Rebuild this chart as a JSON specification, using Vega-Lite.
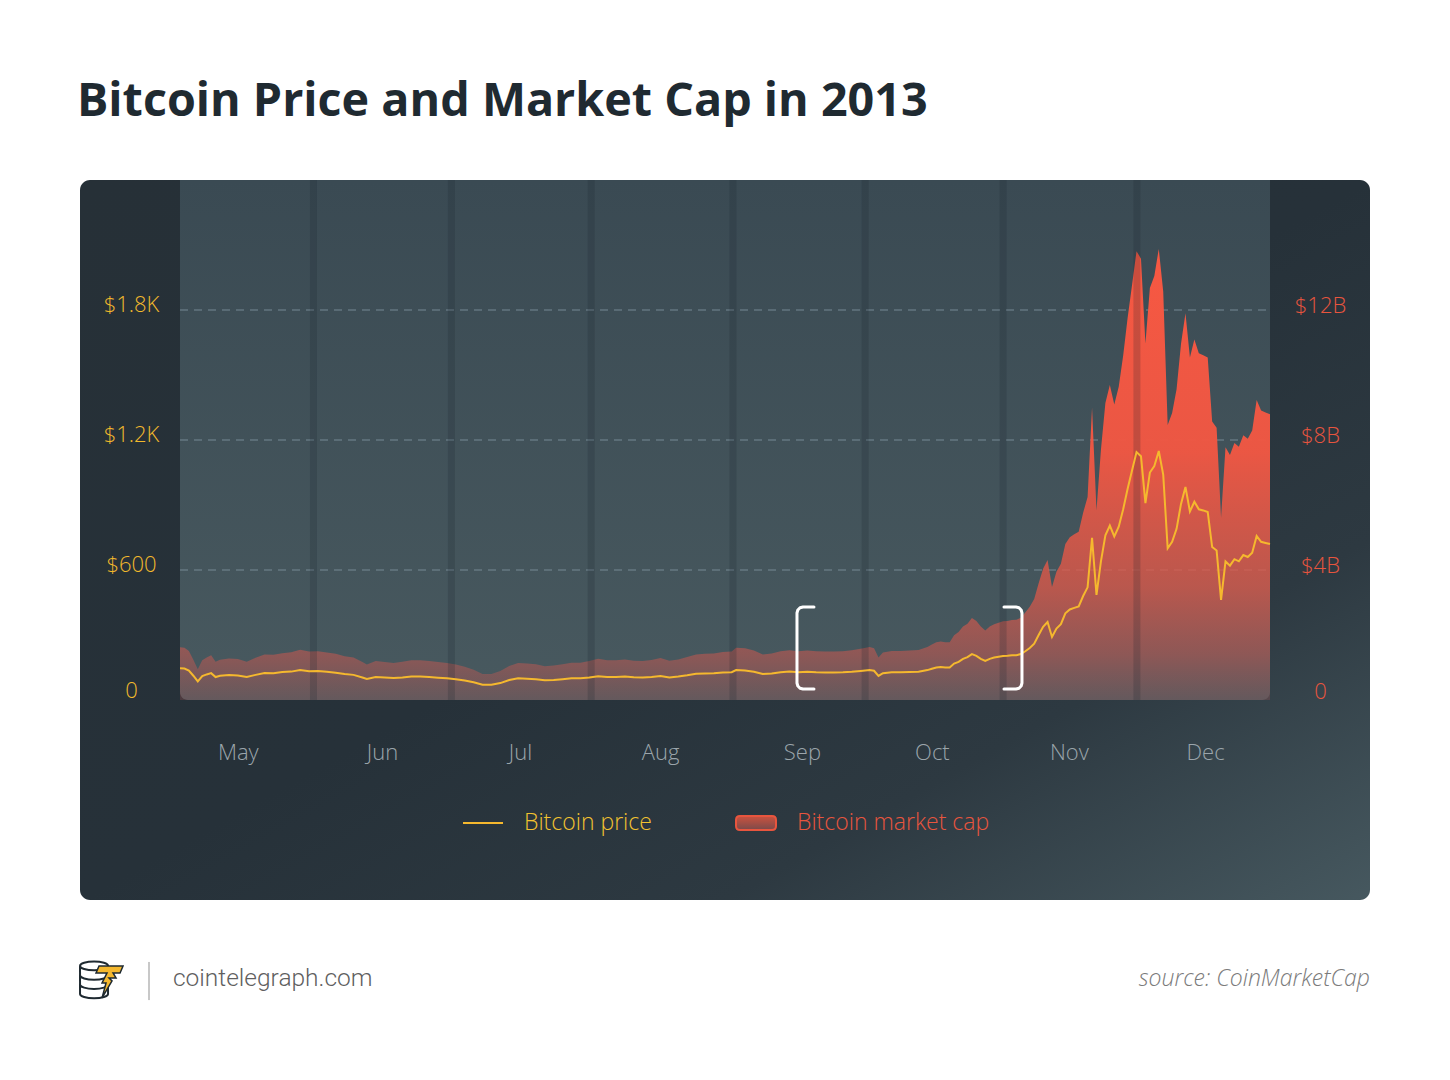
{
  "$schema": "https://vega.github.io/schema/vega-lite/v6.json",
  "width": 1290,
  "height": 720,
  "autosize": {"type": "none"},
  "padding": {"left": 80, "top": 180, "right": 80, "bottom": 180},
  "background": "#ffffff",
  "title": {
    "text": "Bitcoin Price and Market Cap in 2013",
    "anchor": "start",
    "frame": "group",
    "font": "Open Sans",
    "fontSize": 46.7,
    "fontWeight": "bold",
    "color": "#1f2a31",
    "baseline": "alphabetic",
    "offset": 14,
    "dx": -3
  },
  "config": {"view": {"stroke": null}},
  "datasets": {
    "btc": [
      {"d": "2013-04-28", "p": 146, "c": 1.62},
      {"d": "2013-04-29", "p": 145, "c": 1.61},
      {"d": "2013-04-30", "p": 136, "c": 1.51},
      {"d": "2013-05-01", "p": 112, "c": 1.24},
      {"d": "2013-05-02", "p": 86, "c": 0.95},
      {"d": "2013-05-03", "p": 110, "c": 1.22},
      {"d": "2013-05-04", "p": 118, "c": 1.31},
      {"d": "2013-05-05", "p": 124, "c": 1.38},
      {"d": "2013-05-06", "p": 106, "c": 1.18},
      {"d": "2013-05-07", "p": 112, "c": 1.24},
      {"d": "2013-05-09", "p": 115, "c": 1.28},
      {"d": "2013-05-11", "p": 113, "c": 1.26},
      {"d": "2013-05-13", "p": 106, "c": 1.18},
      {"d": "2013-05-15", "p": 116, "c": 1.30},
      {"d": "2013-05-17", "p": 125, "c": 1.40},
      {"d": "2013-05-19", "p": 124, "c": 1.39},
      {"d": "2013-05-21", "p": 129, "c": 1.44},
      {"d": "2013-05-23", "p": 131, "c": 1.47},
      {"d": "2013-05-25", "p": 138, "c": 1.55},
      {"d": "2013-05-27", "p": 133, "c": 1.49},
      {"d": "2013-05-29", "p": 134, "c": 1.50},
      {"d": "2013-05-31", "p": 130, "c": 1.46},
      {"d": "2013-06-02", "p": 126, "c": 1.42},
      {"d": "2013-06-04", "p": 120, "c": 1.35},
      {"d": "2013-06-06", "p": 116, "c": 1.31},
      {"d": "2013-06-08", "p": 104, "c": 1.17},
      {"d": "2013-06-09", "p": 97, "c": 1.09},
      {"d": "2013-06-11", "p": 106, "c": 1.20},
      {"d": "2013-06-13", "p": 104, "c": 1.17},
      {"d": "2013-06-15", "p": 101, "c": 1.14},
      {"d": "2013-06-17", "p": 104, "c": 1.18},
      {"d": "2013-06-19", "p": 108, "c": 1.22},
      {"d": "2013-06-21", "p": 108, "c": 1.22},
      {"d": "2013-06-23", "p": 106, "c": 1.20},
      {"d": "2013-06-25", "p": 103, "c": 1.17},
      {"d": "2013-06-27", "p": 100, "c": 1.14},
      {"d": "2013-06-29", "p": 96, "c": 1.09},
      {"d": "2013-07-01", "p": 90, "c": 1.02},
      {"d": "2013-07-03", "p": 82, "c": 0.93},
      {"d": "2013-07-05", "p": 70, "c": 0.80},
      {"d": "2013-07-07", "p": 70, "c": 0.80},
      {"d": "2013-07-09", "p": 78, "c": 0.89},
      {"d": "2013-07-11", "p": 92, "c": 1.05},
      {"d": "2013-07-13", "p": 100, "c": 1.14},
      {"d": "2013-07-15", "p": 98, "c": 1.12},
      {"d": "2013-07-17", "p": 96, "c": 1.10},
      {"d": "2013-07-19", "p": 91, "c": 1.04},
      {"d": "2013-07-21", "p": 92, "c": 1.06},
      {"d": "2013-07-23", "p": 96, "c": 1.10},
      {"d": "2013-07-25", "p": 100, "c": 1.15},
      {"d": "2013-07-27", "p": 100, "c": 1.15},
      {"d": "2013-07-29", "p": 104, "c": 1.20},
      {"d": "2013-07-31", "p": 110, "c": 1.27},
      {"d": "2013-08-02", "p": 106, "c": 1.22},
      {"d": "2013-08-04", "p": 106, "c": 1.22},
      {"d": "2013-08-06", "p": 108, "c": 1.25},
      {"d": "2013-08-08", "p": 105, "c": 1.21},
      {"d": "2013-08-10", "p": 104, "c": 1.20},
      {"d": "2013-08-12", "p": 106, "c": 1.23},
      {"d": "2013-08-14", "p": 111, "c": 1.29},
      {"d": "2013-08-16", "p": 104, "c": 1.21},
      {"d": "2013-08-18", "p": 108, "c": 1.25},
      {"d": "2013-08-20", "p": 114, "c": 1.32},
      {"d": "2013-08-22", "p": 121, "c": 1.40},
      {"d": "2013-08-24", "p": 122, "c": 1.42},
      {"d": "2013-08-26", "p": 123, "c": 1.43},
      {"d": "2013-08-28", "p": 127, "c": 1.48},
      {"d": "2013-08-30", "p": 128, "c": 1.49},
      {"d": "2013-08-31", "p": 138, "c": 1.61},
      {"d": "2013-09-02", "p": 136, "c": 1.59},
      {"d": "2013-09-04", "p": 130, "c": 1.52},
      {"d": "2013-09-06", "p": 120, "c": 1.40},
      {"d": "2013-09-08", "p": 122, "c": 1.43},
      {"d": "2013-09-10", "p": 128, "c": 1.50},
      {"d": "2013-09-12", "p": 131, "c": 1.53},
      {"d": "2013-09-14", "p": 128, "c": 1.50},
      {"d": "2013-09-16", "p": 130, "c": 1.52},
      {"d": "2013-09-18", "p": 128, "c": 1.50},
      {"d": "2013-09-20", "p": 127, "c": 1.49},
      {"d": "2013-09-22", "p": 127, "c": 1.49},
      {"d": "2013-09-24", "p": 128, "c": 1.50},
      {"d": "2013-09-26", "p": 130, "c": 1.53},
      {"d": "2013-09-28", "p": 134, "c": 1.58},
      {"d": "2013-09-30", "p": 138, "c": 1.63},
      {"d": "2013-10-01", "p": 135, "c": 1.59},
      {"d": "2013-10-02", "p": 111, "c": 1.31},
      {"d": "2013-10-03", "p": 124, "c": 1.46},
      {"d": "2013-10-05", "p": 128, "c": 1.51},
      {"d": "2013-10-07", "p": 128, "c": 1.51},
      {"d": "2013-10-09", "p": 129, "c": 1.52},
      {"d": "2013-10-11", "p": 130, "c": 1.54},
      {"d": "2013-10-13", "p": 138, "c": 1.63},
      {"d": "2013-10-14", "p": 144, "c": 1.71},
      {"d": "2013-10-15", "p": 150, "c": 1.78},
      {"d": "2013-10-16", "p": 152, "c": 1.80},
      {"d": "2013-10-17", "p": 150, "c": 1.78},
      {"d": "2013-10-18", "p": 150, "c": 1.78},
      {"d": "2013-10-19", "p": 168, "c": 1.99},
      {"d": "2013-10-20", "p": 176, "c": 2.09},
      {"d": "2013-10-21", "p": 190, "c": 2.26},
      {"d": "2013-10-22", "p": 198, "c": 2.35},
      {"d": "2013-10-23", "p": 212, "c": 2.52},
      {"d": "2013-10-24", "p": 204, "c": 2.43},
      {"d": "2013-10-25", "p": 190, "c": 2.26},
      {"d": "2013-10-26", "p": 180, "c": 2.14},
      {"d": "2013-10-27", "p": 190, "c": 2.26},
      {"d": "2013-10-28", "p": 196, "c": 2.33},
      {"d": "2013-10-29", "p": 200, "c": 2.38},
      {"d": "2013-10-30", "p": 203, "c": 2.42},
      {"d": "2013-10-31", "p": 204, "c": 2.43},
      {"d": "2013-11-01", "p": 206, "c": 2.46},
      {"d": "2013-11-02", "p": 207, "c": 2.47},
      {"d": "2013-11-03", "p": 212, "c": 2.53},
      {"d": "2013-11-04", "p": 225, "c": 2.69},
      {"d": "2013-11-05", "p": 240, "c": 2.87},
      {"d": "2013-11-06", "p": 260, "c": 3.11},
      {"d": "2013-11-07", "p": 300, "c": 3.59},
      {"d": "2013-11-08", "p": 338, "c": 4.04},
      {"d": "2013-11-09", "p": 360, "c": 4.31},
      {"d": "2013-11-10", "p": 291, "c": 3.48},
      {"d": "2013-11-11", "p": 330, "c": 3.95},
      {"d": "2013-11-12", "p": 350, "c": 4.19},
      {"d": "2013-11-13", "p": 400, "c": 4.80},
      {"d": "2013-11-14", "p": 418, "c": 5.01},
      {"d": "2013-11-15", "p": 425, "c": 5.10},
      {"d": "2013-11-16", "p": 432, "c": 5.18},
      {"d": "2013-11-17", "p": 480, "c": 5.76},
      {"d": "2013-11-18", "p": 520, "c": 6.25},
      {"d": "2013-11-19", "p": 748, "c": 8.99},
      {"d": "2013-11-20", "p": 485, "c": 5.83},
      {"d": "2013-11-21", "p": 640, "c": 7.70},
      {"d": "2013-11-22", "p": 760, "c": 9.14},
      {"d": "2013-11-23", "p": 805, "c": 9.69},
      {"d": "2013-11-24", "p": 755, "c": 9.09},
      {"d": "2013-11-25", "p": 800, "c": 9.64},
      {"d": "2013-11-26", "p": 880, "c": 10.60},
      {"d": "2013-11-27", "p": 975, "c": 11.76},
      {"d": "2013-11-28", "p": 1060, "c": 12.78},
      {"d": "2013-11-29", "p": 1144, "c": 13.81},
      {"d": "2013-11-30", "p": 1125, "c": 13.58},
      {"d": "2013-12-01", "p": 909, "c": 10.97},
      {"d": "2013-12-02", "p": 1050, "c": 12.68},
      {"d": "2013-12-03", "p": 1080, "c": 13.05},
      {"d": "2013-12-04", "p": 1149, "c": 13.88},
      {"d": "2013-12-05", "p": 1040, "c": 12.57},
      {"d": "2013-12-06", "p": 700, "c": 8.46},
      {"d": "2013-12-07", "p": 730, "c": 8.83},
      {"d": "2013-12-08", "p": 790, "c": 9.56},
      {"d": "2013-12-09", "p": 905, "c": 10.96},
      {"d": "2013-12-10", "p": 983, "c": 11.90},
      {"d": "2013-12-11", "p": 870, "c": 10.54},
      {"d": "2013-12-12", "p": 915, "c": 11.09},
      {"d": "2013-12-13", "p": 880, "c": 10.67},
      {"d": "2013-12-14", "p": 875, "c": 10.61},
      {"d": "2013-12-15", "p": 868, "c": 10.54},
      {"d": "2013-12-16", "p": 706, "c": 8.57},
      {"d": "2013-12-17", "p": 690, "c": 8.38},
      {"d": "2013-12-18", "p": 462, "c": 5.61},
      {"d": "2013-12-19", "p": 640, "c": 7.78},
      {"d": "2013-12-20", "p": 620, "c": 7.54},
      {"d": "2013-12-21", "p": 650, "c": 7.91},
      {"d": "2013-12-22", "p": 640, "c": 7.79},
      {"d": "2013-12-23", "p": 669, "c": 8.15},
      {"d": "2013-12-24", "p": 660, "c": 8.04},
      {"d": "2013-12-25", "p": 680, "c": 8.29},
      {"d": "2013-12-26", "p": 757, "c": 9.23},
      {"d": "2013-12-27", "p": 730, "c": 8.91},
      {"d": "2013-12-28", "p": 725, "c": 8.85},
      {"d": "2013-12-29", "p": 720, "c": 8.79}
    ],
    "bands": [
      {"b": "2013-05-28"},
      {"b": "2013-06-28"},
      {"b": "2013-07-29T10:00Z"},
      {"b": "2013-08-30T07:00Z"},
      {"b": "2013-09-29"},
      {"b": "2013-10-30"},
      {"b": "2013-11-29T02:00Z"}
    ],
    "grid": [{"g": 600}, {"g": 1200}, {"g": 1800}],
    "brackets": [
      {"k": "L", "i": 1, "t": "2013-09-17T12:00Z", "v": 429},
      {"k": "L", "i": 2, "t": "2013-09-15T00:45Z", "v": 429},
      {"k": "L", "i": 3, "t": "2013-09-14T08:40Z", "v": 425.5},
      {"k": "L", "i": 4, "t": "2013-09-13T20:50Z", "v": 415.4},
      {"k": "L", "i": 5, "t": "2013-09-13T16:20Z", "v": 401.5},
      {"k": "L", "i": 6, "t": "2013-09-13T16:20Z", "v": 78.5},
      {"k": "L", "i": 7, "t": "2013-09-13T20:50Z", "v": 64.6},
      {"k": "L", "i": 8, "t": "2013-09-14T08:40Z", "v": 54.5},
      {"k": "L", "i": 9, "t": "2013-09-15T00:45Z", "v": 50.8},
      {"k": "L", "i": 10, "t": "2013-09-17T12:00Z", "v": 50.8},
      {"k": "R", "i": 1, "t": "2013-10-30T05:00Z", "v": 429},
      {"k": "R", "i": 2, "t": "2013-11-01T21:40Z", "v": 429},
      {"k": "R", "i": 3, "t": "2013-11-02T13:55Z", "v": 425.5},
      {"k": "R", "i": 4, "t": "2013-11-03T01:40Z", "v": 415.4},
      {"k": "R", "i": 5, "t": "2013-11-03T06:00Z", "v": 401.5},
      {"k": "R", "i": 6, "t": "2013-11-03T06:00Z", "v": 78.5},
      {"k": "R", "i": 7, "t": "2013-11-03T01:40Z", "v": 64.6},
      {"k": "R", "i": 8, "t": "2013-11-02T13:55Z", "v": 54.5},
      {"k": "R", "i": 9, "t": "2013-11-01T21:40Z", "v": 50.8},
      {"k": "R", "i": 10, "t": "2013-10-30T05:00Z", "v": 50.8}
    ]
  },
  "layer": [
    {
      "data": {"values": [{}]},
      "mark": {
        "type": "rect",
        "cornerRadius": 10,
        "fill": {
          "gradient": "linear", "x1": 0, "y1": 0, "x2": 1, "y2": 1,
          "stops": [
            {"offset": 0, "color": "#263037"},
            {"offset": 0.5, "color": "#263139"},
            {"offset": 0.75, "color": "#2d3941"},
            {"offset": 1, "color": "#46585f"}
          ]
        }
      },
      "encoding": {
        "x": {"datum": {"year": 2013, "month": 4, "date": 5, "hours": 12, "minutes": 33, "utc": true}, "type": "temporal", "axis": null,
              "scale": {"type": "utc", "nice": false, "domain": [{"year": 2013, "month": 4, "date": 5, "hours": 12, "minutes": 33, "utc": true}, {"year": 2014, "month": 1, "date": 20, "hours": 11, "minutes": 27, "utc": true}]}},
        "x2": {"datum": {"year": 2014, "month": 1, "date": 20, "hours": 11, "minutes": 27, "utc": true}},
        "y": {"datum": -923.08, "type": "quantitative", "axis": null, "scale": {"domain": [-923.08, 2400], "nice": false, "zero": false}},
        "y2": {"datum": 2400}
      }
    },
    {
      "data": {"values": [{}]},
      "mark": {
        "type": "rect",
        "cornerRadiusBottomLeft": 8,
        "cornerRadiusBottomRight": 8,
        "fill": {
          "gradient": "linear", "x1": 0, "y1": 0, "x2": 0, "y2": 1,
          "stops": [
            {"offset": 0, "color": "#3a4a53"},
            {"offset": 1, "color": "#48595f"}
          ]
        }
      },
      "encoding": {
        "x": {"datum": {"year": 2013, "month": 4, "date": 28, "utc": true}, "type": "temporal", "axis": null,
              "scale": {"type": "utc", "nice": false, "domain": [{"year": 2013, "month": 4, "date": 5, "hours": 12, "minutes": 33, "utc": true}, {"year": 2014, "month": 1, "date": 20, "hours": 11, "minutes": 27, "utc": true}]}},
        "x2": {"datum": {"year": 2013, "month": 12, "date": 29, "utc": true}},
        "y": {"datum": 0, "type": "quantitative", "axis": null, "scale": {"domain": [-923.08, 2400], "nice": false, "zero": false}},
        "y2": {"datum": 2400}
      }
    },
    {
      "data": {"name": "grid"},
      "mark": {"type": "rule", "stroke": "#7f95a0", "strokeWidth": 1.2, "strokeDash": [8, 6], "opacity": 0.85},
      "encoding": {
        "x": {"datum": {"year": 2013, "month": 4, "date": 28, "utc": true}, "type": "temporal", "axis": null,
              "scale": {"type": "utc", "nice": false, "domain": [{"year": 2013, "month": 4, "date": 5, "hours": 12, "minutes": 33, "utc": true}, {"year": 2014, "month": 1, "date": 20, "hours": 11, "minutes": 27, "utc": true}]}},
        "x2": {"datum": {"year": 2013, "month": 12, "date": 29, "utc": true}},
        "y": {"field": "g", "type": "quantitative", "axis": null, "scale": {"domain": [-923.08, 2400], "nice": false, "zero": false}}
      }
    },
    {
      "data": {"name": "btc"},
      "mark": {
        "type": "area",
        "interpolate": "linear",
        "fill": {
          "gradient": "linear", "x1": 0, "y1": 0, "x2": 0, "y2": 1,
          "stops": [
            {"offset": 0, "color": "rgba(247,88,66,1)"},
            {"offset": 0.45, "color": "rgba(240,87,67,0.97)"},
            {"offset": 0.75, "color": "rgba(226,88,72,0.74)"},
            {"offset": 0.9, "color": "rgba(212,88,78,0.5)"},
            {"offset": 1, "color": "rgba(200,88,84,0.22)"}
          ]
        }
      },
      "encoding": {
        "x": {"field": "d", "type": "temporal", "axis": null,
              "scale": {"type": "utc", "nice": false, "domain": [{"year": 2013, "month": 4, "date": 5, "hours": 12, "minutes": 33, "utc": true}, {"year": 2014, "month": 1, "date": 20, "hours": 11, "minutes": 27, "utc": true}]}},
        "y": {
          "field": "c", "type": "quantitative",
          "scale": {"domain": [-6.1538, 16], "nice": false, "zero": false},
          "axis": {
            "orient": "right", "title": null, "values": [0, 4, 8, 12],
            "labelExpr": "datum.value == 0 ? '0' : '$' + datum.value + 'B'",
            "offset": -100, "labelAlign": "center", "labelPadding": 50,
            "ticks": false, "tickSize": 0, "domain": false, "grid": false,
            "labelColor": "#e8553e", "labelFont": "Open Sans", "labelFontSize": 22, "labelFontWeight": 300,
            "labelOffset": {"condition": {"test": "datum.value == 0", "value": -9}, "value": -5},
            "zindex": 1
          }
        }
      }
    },
    {
      "data": {"name": "bands"},
      "mark": {"type": "rule", "stroke": "#1a252b", "strokeWidth": 7, "opacity": 0.2},
      "encoding": {
        "x": {"field": "b", "type": "temporal", "axis": null,
              "scale": {"type": "utc", "nice": false, "domain": [{"year": 2013, "month": 4, "date": 5, "hours": 12, "minutes": 33, "utc": true}, {"year": 2014, "month": 1, "date": 20, "hours": 11, "minutes": 27, "utc": true}]}},
        "y": {"datum": 0, "type": "quantitative", "axis": null, "scale": {"domain": [-923.08, 2400], "nice": false, "zero": false}},
        "y2": {"datum": 2400}
      }
    },
    {
      "data": {"name": "btc"},
      "mark": {"type": "line", "strokeWidth": 2, "interpolate": "linear"},
      "encoding": {
        "x": {
          "field": "d", "type": "temporal",
          "scale": {"type": "utc", "nice": false, "domain": [{"year": 2013, "month": 4, "date": 5, "hours": 12, "minutes": 33, "utc": true}, {"year": 2014, "month": 1, "date": 20, "hours": 11, "minutes": 27, "utc": true}]},
          "axis": {
            "title": null, "format": "%b", "offset": -200,
            "values": [
              {"year": 2013, "month": 5, "date": 11, "utc": true},
              {"year": 2013, "month": 6, "date": 12, "hours": 10, "utc": true},
              {"year": 2013, "month": 7, "date": 13, "hours": 10, "utc": true},
              {"year": 2013, "month": 8, "date": 13, "hours": 22, "utc": true},
              {"year": 2013, "month": 9, "date": 14, "hours": 19, "utc": true},
              {"year": 2013, "month": 10, "date": 14, "utc": true},
              {"year": 2013, "month": 11, "date": 13, "hours": 19, "utc": true},
              {"year": 2013, "month": 12, "date": 14, "hours": 10, "utc": true}
            ],
            "labelPadding": 52, "labelBaseline": "middle", "labelAlign": "center",
            "ticks": false, "tickSize": 0, "domain": false, "grid": false,
            "labelFlush": false, "labelOverlap": false,
            "labelColor": "#9ba5ab", "labelFont": "Open Sans", "labelFontSize": 22, "labelFontWeight": 300,
            "zindex": 1
          }
        },
        "y": {
          "field": "p", "type": "quantitative",
          "scale": {"domain": [-923.08, 2400], "nice": false, "zero": false},
          "axis": {
            "orient": "left", "title": null, "values": [0, 600, 1200, 1800],
            "labelExpr": "datum.value == 0 ? '0' : datum.value >= 1000 ? '$' + format(datum.value / 1000, '.1f') + 'K' : '$' + datum.value",
            "offset": -100, "labelAlign": "center", "labelPadding": 49,
            "ticks": false, "tickSize": 0, "domain": false, "grid": false,
            "labelColor": "#f2b92c", "labelFont": "Open Sans", "labelFontSize": 22, "labelFontWeight": 300,
            "labelOffset": {"condition": {"test": "datum.value == 0", "value": -9}, "value": -5},
            "zindex": 1
          }
        },
        "color": {
          "datum": "Bitcoin price",
          "scale": {"domain": ["Bitcoin price", "Bitcoin market cap"], "range": ["#f5b82e", "#e8553e"]},
          "legend": {
            "title": null, "orient": "none", "legendX": 382, "legendY": 622,
            "direction": "horizontal", "padding": 0, "zindex": 1,
            "symbolType": "stroke", "symbolSize": 1600, "symbolStrokeWidth": 2,
            "labelFont": "Open Sans", "labelFontSize": 23, "labelFontWeight": 300,
            "labelOffset": 20, "columnPadding": 80, "labelLimit": 0,
            "encode": {
              "symbols": {
                "update": {
                  "shape": [
                    {"test": "datum.value === 'Bitcoin market cap'", "value": "M-0.8,-0.35L0.8,-0.35Q1,-0.35 1,-0.15L1,0.15Q1,0.35 0.8,0.35L-0.8,0.35Q-1,0.35 -1,0.15L-1,-0.15Q-1,-0.35 -0.8,-0.35Z"},
                    {"value": "stroke"}
                  ],
                  "fill": [
                    {"test": "datum.value === 'Bitcoin market cap'", "value": {"gradient": "linear", "x1": 0, "y1": 0, "x2": 0, "y2": 1, "stops": [{"offset": 0, "color": "#cc523f"}, {"offset": 1, "color": "#7b4a4a"}]}},
                    {"value": "transparent"}
                  ],
                  "stroke": [
                    {"test": "datum.value === 'Bitcoin market cap'", "value": "transparent"},
                    {"value": "#e0b030"}
                  ],
                  "opacity": {"value": 1}
                }
              },
              "labels": {
                "update": {
                  "fill": [
                    {"test": "datum.value === 'Bitcoin market cap'", "value": "#e8553e"},
                    {"value": "#f2c230"}
                  ]
                }
              }
            }
          }
        }
      }
    },
    {
      "data": {"name": "brackets"},
      "mark": {"type": "line", "stroke": "#ffffff", "strokeWidth": 3, "strokeCap": "round", "strokeJoin": "round"},
      "encoding": {
        "x": {"field": "t", "type": "temporal", "axis": null,
              "scale": {"type": "utc", "nice": false, "domain": [{"year": 2013, "month": 4, "date": 5, "hours": 12, "minutes": 33, "utc": true}, {"year": 2014, "month": 1, "date": 20, "hours": 11, "minutes": 27, "utc": true}]}},
        "y": {"field": "v", "type": "quantitative", "axis": null, "scale": {"domain": [-923.08, 2400], "nice": false, "zero": false}},
        "detail": {"field": "k"},
        "order": {"field": "i"}
      }
    },
    {
      "data": {"values": [{}]},
      "mark": {"type": "rule", "stroke": "#c8c8c8", "strokeWidth": 2},
      "encoding": {
        "x": {"datum": {"year": 2013, "month": 4, "date": 21, "hours": 0, "minutes": 45, "utc": true}, "type": "temporal", "axis": null,
              "scale": {"type": "utc", "nice": false, "domain": [{"year": 2013, "month": 4, "date": 5, "hours": 12, "minutes": 33, "utc": true}, {"year": 2014, "month": 1, "date": 20, "hours": 11, "minutes": 27, "utc": true}]}},
        "y": {"datum": -1209, "type": "quantitative", "axis": null, "scale": {"domain": [-923.08, 2400], "nice": false, "zero": false}},
        "y2": {"datum": -1385}
      }
    },
    {
      "data": {"values": [{}]},
      "mark": {"type": "text", "text": "cointelegraph.com", "align": "left", "baseline": "middle", "font": "Roboto", "fontSize": 24.5, "fontWeight": 300, "color": "#5f5f5f"},
      "encoding": {
        "x": {"datum": {"year": 2013, "month": 4, "date": 26, "hours": 10, "utc": true}, "type": "temporal", "axis": null,
              "scale": {"type": "utc", "nice": false, "domain": [{"year": 2013, "month": 4, "date": 5, "hours": 12, "minutes": 33, "utc": true}, {"year": 2014, "month": 1, "date": 20, "hours": 11, "minutes": 27, "utc": true}]}},
        "y": {"datum": -1288, "type": "quantitative", "axis": null, "scale": {"domain": [-923.08, 2400], "nice": false, "zero": false}}
      }
    },
    {
      "data": {"values": [{}]},
      "mark": {"type": "text", "text": "source: CoinMarketCap", "align": "right", "baseline": "middle", "font": "Open Sans", "fontSize": 23, "fontStyle": "italic", "fontWeight": 300, "color": "#7b7b7b"},
      "encoding": {
        "x": {"datum": {"year": 2014, "month": 1, "date": 20, "hours": 11, "minutes": 27, "utc": true}, "type": "temporal", "axis": null,
              "scale": {"type": "utc", "nice": false, "domain": [{"year": 2013, "month": 4, "date": 5, "hours": 12, "minutes": 33, "utc": true}, {"year": 2014, "month": 1, "date": 20, "hours": 11, "minutes": 27, "utc": true}]}},
        "y": {"datum": -1288, "type": "quantitative", "axis": null, "scale": {"domain": [-923.08, 2400], "nice": false, "zero": false}}
      }
    },
    {
      "data": {"values": [{}]},
      "mark": {
        "type": "point", "filled": false, "size": 1600, "stroke": "#1f2a31", "strokeWidth": 2, "opacity": 1,
        "shape": "M-1.05,-0.7A0.7,0.22 0 1 1 0.35,-0.7A0.7,0.22 0 1 1 -1.05,-0.7ZM-1.05,-0.7L-1.05,0.7A0.7,0.22 0 0 0 0.35,0.7L0.35,-0.7M-1.05,-0.23A0.7,0.22 0 0 0 0.35,-0.23M-1.05,0.23A0.7,0.22 0 0 0 0.35,0.23"
      },
      "encoding": {
        "x": {"datum": {"year": 2013, "month": 4, "date": 10, "hours": 6, "utc": true}, "type": "temporal", "axis": null,
              "scale": {"type": "utc", "nice": false, "domain": [{"year": 2013, "month": 4, "date": 5, "hours": 12, "minutes": 33, "utc": true}, {"year": 2014, "month": 1, "date": 20, "hours": 11, "minutes": 27, "utc": true}]}},
        "y": {"datum": -1292, "type": "quantitative", "axis": null, "scale": {"domain": [-923.08, 2400], "nice": false, "zero": false}}
      }
    },
    {
      "data": {"values": [{}]},
      "mark": {
        "type": "point", "filled": true, "size": 1600, "fill": "#f5b82e", "stroke": "#1f2a31", "strokeWidth": 1.5, "opacity": 1,
        "shape": "M-0.1,-0.7L1.1,-0.7L0.95,-0.35L0.6,-0.35L0.75,-0.1L0.4,-0.1L0.55,0.05L0.05,0.9L0.25,0.15L0.05,0.15L0.3,-0.35L-0.25,-0.35Z"
      },
      "encoding": {
        "x": {"datum": {"year": 2013, "month": 4, "date": 10, "hours": 6, "utc": true}, "type": "temporal", "axis": null,
              "scale": {"type": "utc", "nice": false, "domain": [{"year": 2013, "month": 4, "date": 5, "hours": 12, "minutes": 33, "utc": true}, {"year": 2014, "month": 1, "date": 20, "hours": 11, "minutes": 27, "utc": true}]}},
        "y": {"datum": -1292, "type": "quantitative", "axis": null, "scale": {"domain": [-923.08, 2400], "nice": false, "zero": false}}
      }
    }
  ],
  "resolve": {"scale": {"y": "independent"}, "axis": {"x": "independent"}}
}
